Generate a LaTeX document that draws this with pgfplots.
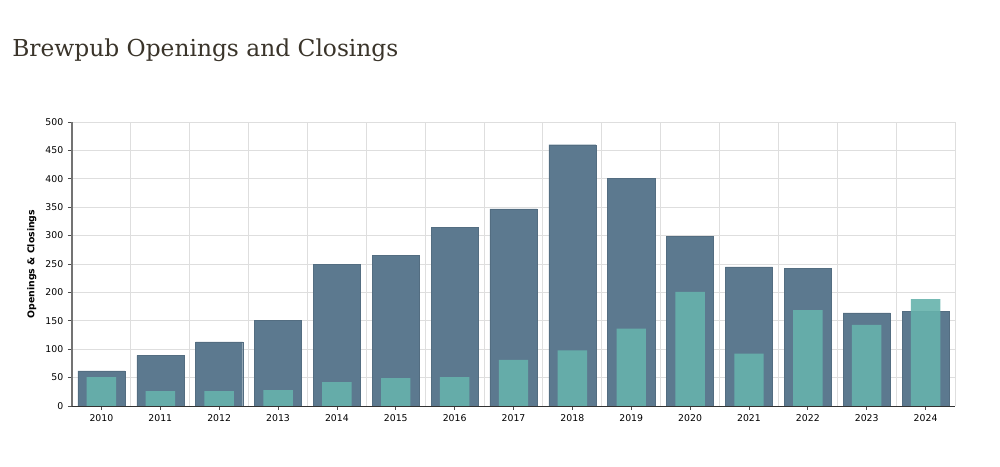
\documentclass[border=0pt]{standalone}
\usepackage{fontspec}
\setmainfont{DejaVu Sans}
\newfontfamily\titlefont{DejaVu Serif}
\usepackage{pgfplots}
\pgfplotsset{compat=1.18}
\definecolor{openc}{RGB}{92,121,143}
\definecolor{closec}{RGB}{102,178,172}
\definecolor{gridc}{RGB}{222,222,222}
\definecolor{titlec}{RGB}{58,52,42}
\begin{document}
\begin{tikzpicture}
\path[use as bounding box] (0,0) rectangle (750pt,350.25pt);
\node[anchor=base west, inner sep=0, text=titlec,
      font=\titlefont\fontsize{17.5}{21}\selectfont] at (9pt,307.5pt)
      {Brewpub Openings and Closings};
\begin{axis}[
    at={(54pt,45.75pt)}, anchor=south west,
    scale only axis, width=662.25pt, height=213pt,
    xmin=-0.5, xmax=14.5, ymin=0, ymax=500,
    xtick={0,...,14},
    xticklabels={2010,2011,2012,2013,2014,2015,2016,2017,2018,2019,2020,2021,2022,2023,2024},
    minor xtick={-0.5,0.5,...,14.5},
    xminorgrids, minor tick length=0pt,
    ytick={0,50,...,500}, ymajorgrids,
    grid style={gridc, line width=0.7pt},
    minor grid style={gridc, line width=0.7pt},
    axis x line=bottom, axis y line=left,
    axis line style={-},
    x axis line style={black!80, line width=0.7pt},
    y axis line style={black!55, line width=1.6pt},
    tick align=outside, major tick length=3pt,
    tick style={black!70, line width=0.6pt},
    ticklabel style={font=\fontsize{7}{8}\selectfont},
    /pgf/number format/assume math mode=true,
    ylabel={\bfseries Openings \& Closings},
    ylabel style={font=\fontsize{7}{8}\selectfont},
]
\addplot[ybar, bar width=0.8, bar shift=0pt, fill=openc, draw=openc!90!black, line width=0.3pt]
  coordinates {(0,62) (1,89) (2,113) (3,151) (4,249) (5,265) (6,315) (7,347)
               (8,460) (9,401) (10,299) (11,245) (12,242) (13,164) (14,167)};
\addplot[ybar, bar width=0.5, bar shift=0pt, fill=closec, fill opacity=0.9, draw=none]
  coordinates {(0,51) (1,26) (2,26) (3,28) (4,42) (5,49) (6,51) (7,81)
               (8,98) (9,136) (10,201) (11,92) (12,169) (13,143) (14,188)};
\end{axis}
\end{tikzpicture}
\end{document}
